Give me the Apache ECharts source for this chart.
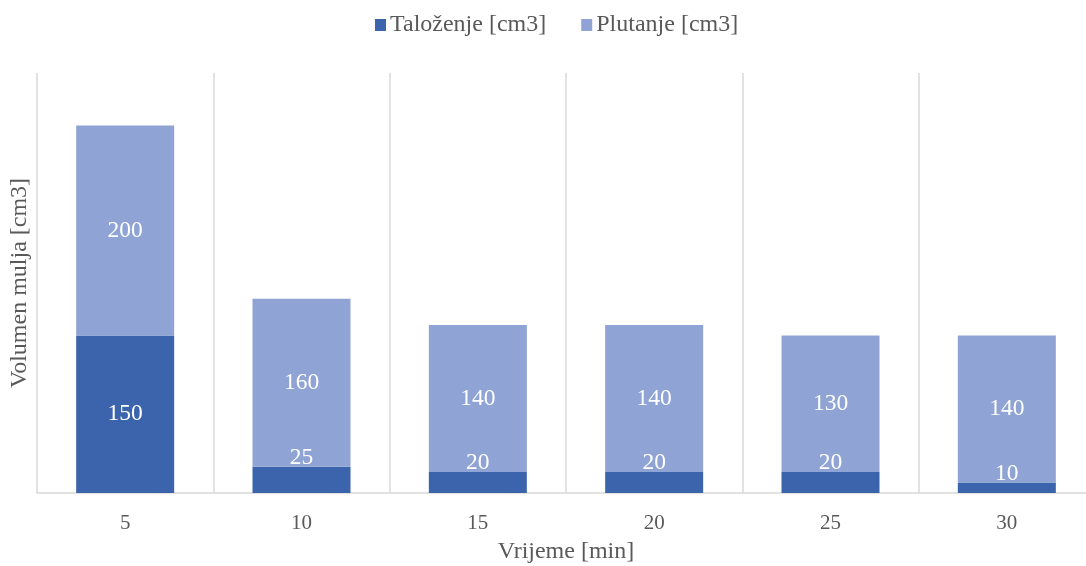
<!DOCTYPE html>
<html lang="hr">
<head>
    <meta charset="UTF-8">
    <title>volumen-mulja</title>
    <script src="https://cdn.jsdelivr.net/npm/echarts@6/dist/echarts.min.js"></script>
</head>
<body style="margin:0">
<div id="main" style="width: 1086px;height:566px;"></div>
<script>
    // podaci
    var categories = ['5', '10', '15', '20', '25', '30'];
    var talozenje = [150, 25, 20, 20, 20, 10];
    var plutanje = [200, 160, 140, 140, 130, 140];

    var font = '"Liberation Serif", "Times New Roman", serif';

    // male vrijednosti - natpis iznad stupca
    var talozenjeData = talozenje.map(function (v) {
        if (v < 50) {
            return {value: v, label: {position: 'top', distance: -3}};
        }
        return v;
    });

    var chart = echarts.init(document.getElementById('main'));
    var option = {
        backgroundColor: '#fff',
        animation: false,
        textStyle: {fontFamily: font},
        legend: {
            top: 8,
            left: 370,
            itemWidth: 11,
            itemHeight: 12,
            itemGap: 35,
            icon: 'rect',
            textStyle: {fontFamily: font, fontSize: 24, color: '#595959', padding: [0, 0, 0, -1]},
            data: ['Taloženje [cm3]', 'Plutanje [cm3]']
        },
        grid: {
            left: 37,
            right: -9,
            top: 73,
            bottom: 73,
            containLabel: false,
            outerBoundsMode: 'none'
        },
        xAxis: {
            type: 'category',
            data: categories,
            name: 'Vrijeme [min]',
            nameLocation: 'middle',
            nameGap: 47,
            nameTextStyle: {fontFamily: font, fontSize: 24, color: '#595959'},
            axisLine: {lineStyle: {color: '#d9d9d9', width: 1.5}},
            axisTick: {show: false},
            axisLabel: {fontFamily: font, fontSize: 21, color: '#595959', margin: 20},
            splitLine: {show: true, lineStyle: {color: '#d9d9d9', width: 1.5}}
        },
        yAxis: {
            type: 'value',
            min: 0,
            max: 400,
            name: 'Volumen mulja [cm3]',
            nameLocation: 'middle',
            nameGap: 5,
            nameTextStyle: {fontFamily: font, fontSize: 24, color: '#595959'},
            axisLine: {show: false},
            axisTick: {show: false},
            axisLabel: {show: false},
            splitLine: {show: false}
        },
        series: [{
            name: 'Taloženje [cm3]',
            type: 'bar',
            stack: 'v',
            barWidth: 98,
            itemStyle: {color: '#3b64ad'},
            label: {show: true, position: 'inside', color: '#fff', fontFamily: font, fontSize: 23.5},
            data: talozenjeData
        }, {
            name: 'Plutanje [cm3]',
            type: 'bar',
            stack: 'v',
            barWidth: 98,
            itemStyle: {color: '#8fa3d4'},
            label: {show: true, position: 'inside', color: '#fff', fontFamily: font, fontSize: 23.5},
            data: plutanje
        }]
    };
    chart.setOption(option);
</script>
</body>
</html>
